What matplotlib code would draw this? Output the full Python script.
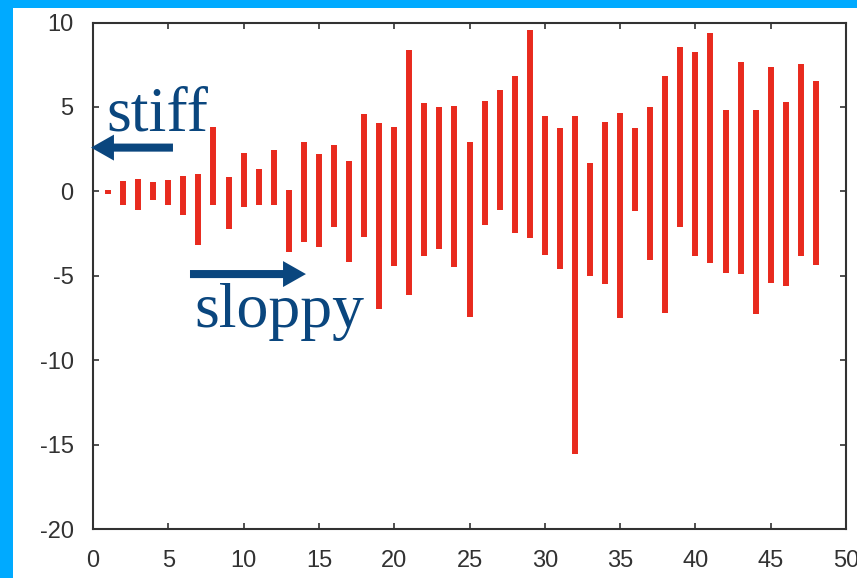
import matplotlib
matplotlib.use('Agg')
import matplotlib.pyplot as plt

# Colors
frame_blue = (0/255, 170/255, 255/255)
bar_red = (232/255, 42/255, 30/255)
text_blue = (10/255, 70/255, 126/255)
axis_gray = (50/255, 50/255, 50/255)

# Data: one vertical bar per index, from low to high
index = list(range(1, 49))
highs = [0.05, 0.63, 0.73, 0.53, 0.69, 0.89, 1.03, 3.83, 0.87, 2.28,
         1.33, 2.47, 0.08, 2.95, 2.22, 2.77, 1.82, 4.59, 4.03, 3.79,
         8.38, 5.24, 4.98, 5.08, 2.95, 5.34, 6.01, 6.86, 9.57, 4.49,
         3.73, 4.45, 1.68, 4.09, 4.65, 3.73, 4.98, 6.86, 8.54, 8.28,
         9.37, 4.84, 7.65, 4.82, 7.35, 5.28, 7.55, 6.56]
lows = [-0.15, -0.79, -1.10, -0.51, -0.79, -1.38, -3.18, -0.79, -2.23, -0.95,
        -0.79, -0.79, -3.62, -3.02, -3.32, -2.09, -4.18, -2.69, -6.97, -4.41,
        -6.16, -3.81, -3.42, -4.50, -7.47, -1.97, -1.10, -2.49, -2.76, -3.75,
        -4.60, -15.57, -5.00, -5.49, -7.50, -1.19, -4.07, -7.23, -2.09, -3.85,
        -4.27, -4.86, -4.90, -7.27, -5.45, -5.60, -3.81, -4.36]

x_ticks = list(range(0, 51, 5))
y_ticks = list(range(-20, 11, 5))

fig = plt.figure(figsize=(8.57, 5.78), dpi=100)
fig.patch.set_facecolor('white')

# Blue frame strips on the left and top edge
fig.add_artist(plt.Rectangle((0, 0), 13/857, 1, facecolor=frame_blue,
                             transform=fig.transFigure, linewidth=0))
fig.add_artist(plt.Rectangle((0, 1 - 7.5/578), 1, 7.5/578, facecolor=frame_blue,
                             transform=fig.transFigure, linewidth=0))

ax = fig.add_axes([93/857, 1 - 529/578, (846 - 93)/857, (529 - 22.5)/578])

ax.vlines(index, lows, highs, colors=[bar_red], linewidth=4.3, capstyle='butt')

ax.set_xlim(0, 50)
ax.set_ylim(-20, 10)
ax.set_xticks(x_ticks)
ax.set_yticks(y_ticks)
ax.set_xticklabels([str(t) for t in x_ticks], fontfamily='Liberation Sans')
ax.set_yticklabels([str(t) for t in y_ticks], fontfamily='Liberation Sans')

for spine in ax.spines.values():
    spine.set_color(axis_gray)
    spine.set_linewidth(1.5)

ax.tick_params(axis='both', direction='in', length=4, width=1.2, color=axis_gray,
               labelsize=17, labelcolor=axis_gray, top=True, right=True)
ax.tick_params(axis='x', pad=15)
ax.tick_params(axis='y', pad=14)

# Annotations
ax.text(0.86, 3.6, 'stiff', fontsize=46, color=text_blue, fontfamily='Liberation Serif',
        ha='left', va='baseline')
ax.text(6.7, -8.06, 'sloppy', fontsize=46, color=text_blue, fontfamily='Liberation Serif',
        ha='left', va='baseline')

arrow_style = dict(arrowstyle='simple,head_length=1.65,head_width=1.87,tail_width=0.58',
                   color=text_blue, lw=0, mutation_scale=10, shrinkA=0, shrinkB=0)
ax.annotate('', xy=(-0.13, 2.59), xytext=(5.31, 2.59), arrowprops=arrow_style,
            annotation_clip=False)
ax.annotate('', xy=(14.14, -4.9), xytext=(6.44, -4.9), arrowprops=arrow_style)

plt.savefig('out.png', dpi=100, facecolor=fig.get_facecolor())
